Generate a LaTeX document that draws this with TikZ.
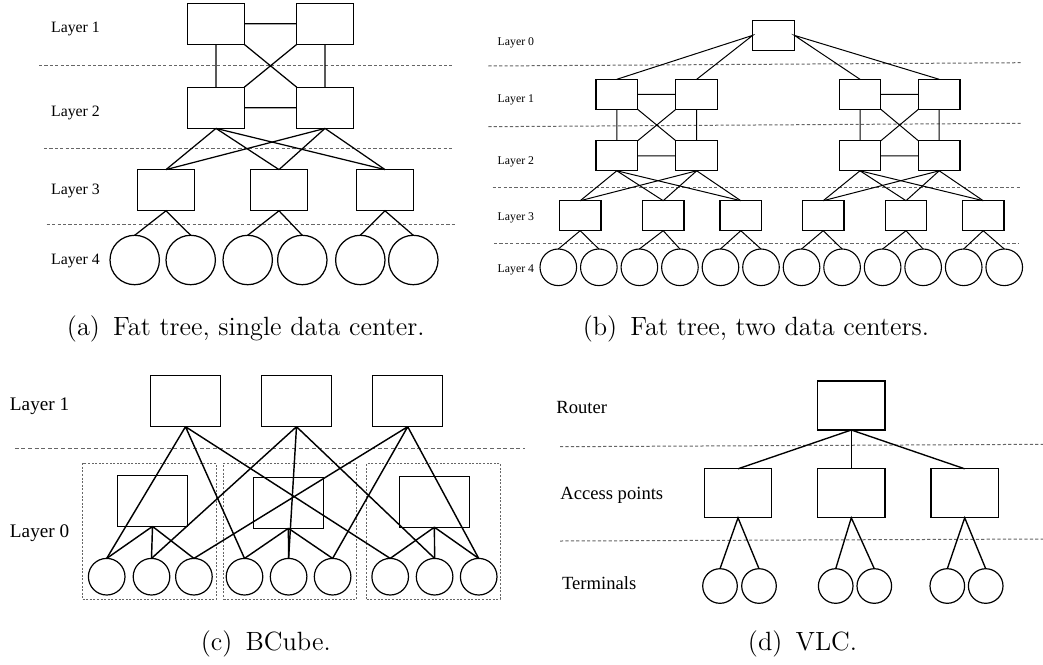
\documentclass[tikz,border=0pt]{standalone}
\usepackage{fontspec}
\newfontfamily\labfont{Liberation Serif}
\begin{document}
\begin{tikzpicture}[x=0.5pt,y=-0.5pt]
\tikzset{
  shapebase/.style={draw=black, fill=white, inner sep=0pt, outer sep=0pt},
  sep/.style={draw=black!60, line width=0.5pt, dash pattern=on 1.6pt off 1.1pt},
  grp/.style={draw=black!60, line width=0.5pt, dash pattern=on 1pt off 0.8pt, inner sep=0pt, outer sep=0pt},
  % panel (a)
  linka/.style={line width=0.62pt},
  boxa/.style={shapebase, line width=0.62pt, minimum width=28.3pt, minimum height=20.6pt},
  hosta/.style={shapebase, circle, line width=0.62pt, minimum size=24.7pt},
  laba/.style={anchor=west, inner sep=0pt, font=\labfont\fontsize{7.9}{9}\selectfont},
  % panel (b)
  linkb/.style={line width=0.5pt},
  boxb/.style={shapebase, line width=0.55pt, minimum width=20.8pt, minimum height=15pt},
  hostb/.style={shapebase, circle, line width=0.55pt, minimum size=18.3pt},
  labb/.style={anchor=west, inner sep=0pt, font=\labfont\fontsize{5.9}{7}\selectfont},
  % panel (c)
  linkc/.style={line width=0.72pt},
  boxc/.style={shapebase, fill=none, line width=0.6pt, minimum width=34.9pt, minimum height=25.5pt},
  hostc/.style={shapebase, circle, fill=none, line width=0.6pt, minimum size=18.3pt},
  labc/.style={anchor=west, inner sep=0pt, font=\labfont\fontsize{9.6}{11}\selectfont},
  % panel (d)
  linkd/.style={line width=0.68pt},
  boxd/.style={shapebase, line width=0.6pt, minimum width=33.65pt, minimum height=24.5pt},
  hostd/.style={shapebase, circle, line width=0.6pt, minimum size=17.3pt},
  labd/.style={anchor=west, inner sep=0pt, font=\labfont\fontsize{9.3}{11}\selectfont},
  captxt/.style={anchor=base, inner sep=0pt, font=\fontsize{13.2}{16}\selectfont},
}
\useasboundingbox (0,0) rectangle (1043,664);

% ---------------- (a) fat tree, single data center ----------------
\draw[sep] (39,65) -- (452,65);
\draw[sep] (44,148.7) -- (452,148.7);
\draw[sep] (46.7,224.7) -- (455.7,224.7);
\node[laba] (la1) at (50.7,29) {Layer 1};
\node[laba] (la2) at (50.7,113) {Layer 2};
\node[laba] (la3) at (50.7,190.7) {Layer 3};
\node[laba] (la4) at (50.7,261) {Layer 4};

\node[boxa] (a11) at (216,23.8) {};
\node[boxa] (a12) at (325,23.8) {};
\node[boxa] (a21) at (216,107.8) {};
\node[boxa] (a22) at (325,107.8) {};
\foreach \x [count=\i] in {166,279,385} \node[boxa] (a3\i) at (\x,190.2) {};
\foreach \x [count=\i] in {134.7,190.7,247.7,302.3,360.3,413.3} \node[hosta] (a4\i) at (\x,260) {};

\draw[linka] (a11.east) -- (a12.west) (a21.east) -- (a22.west)
  (a11.south) -- (a21.north) (a12.south) -- (a22.north)
  (a11.south east) -- (a22.north west) (a12.south west) -- (a21.north east);
\foreach \u in {1,2} \foreach \v in {1,2,3} \draw[linka] (a2\u.south) -- (a3\v.north);
\foreach \v/\p/\q in {1/1/2,2/3/4,3/5/6}
  \draw[linka] (a4\p.north) -- (a3\v.south) -- (a4\q.north);

% ---------------- (b) fat tree, two data centers ----------------
\draw[sep] (488.3,66) -- (1022,62.7);
\draw[sep] (488.3,126.7) -- (1022,123.3);
\draw[sep] (492.7,187.3) -- (1020,187.3);
\draw[sep] (494,243.3) -- (1019.3,243.3);
\node[labb] (lb0) at (497.3,43.3) {Layer 0};
\node[labb] (lb1) at (497.3,100) {Layer 1};
\node[labb] (lb2) at (497.3,162.3) {Layer 2};
\node[labb] (lb3) at (497.3,218.3) {Layer 3};
\node[labb] (lb4) at (497.3,270) {Layer 4};

\node[boxb] (b0) at (773.5,35.35) {};
\foreach \x [count=\i] in {616.8,696.7,860,939.2} {
  \node[boxb] (b1\i) at (\x,94.3) {};
  \node[boxb] (b2\i) at (\x,155.8) {};
}
\foreach \x [count=\i] in {580.2,663.2,740.8,823.2,906,983.2} \node[boxb] (b3\i) at (\x,215.7) {};
\foreach \k in {1,...,12} \node[hostb] (b4\k) at ({558.3+40.54*(\k-1)},267.3) {};

\draw[linkb] (b11.north) -- (b0.west) -- (b12.north)
  (b13.north) -- (b0.east) -- (b14.north);
\foreach \p/\q in {1/2,3/4} {
  \draw[linkb] (b1\p.east) -- (b1\q.west) (b2\p.east) -- (b2\q.west)
    (b1\p.south) -- (b2\p.north) (b1\q.south) -- (b2\q.north)
    (b1\p.south east) -- (b2\q.north west) (b1\q.south west) -- (b2\p.north east);
}
\foreach \u in {1,2} \foreach \v in {1,2,3} \draw[linkb] (b2\u.south) -- (b3\v.north);
\foreach \u in {3,4} \foreach \v in {4,5,6} \draw[linkb] (b2\u.south) -- (b3\v.north);
\foreach \v/\p/\q in {1/1/2,2/3/4,3/5/6,4/7/8,5/9/10,6/11/12}
  \draw[linkb] (b4\p.north) -- (b3\v.south) -- (b4\q.north);

% ---------------- (c) BCube ----------------
\draw[sep, dash pattern=on 2pt off 1.3pt] (14.8,448.3) -- (525.1,448.3);
\node[labc] (lc1) at (9.6,406.7) {Layer 1};
\node[labc] (lc0) at (9.6,533.3) {Layer 0};

\node[grp, minimum width=66.85pt, minimum height=68pt] (g1) at (149.45,531.3) {};
\node[grp, minimum width=66.3pt, minimum height=68pt] (g2) at (290.1,531.3) {};
\node[grp, minimum width=66.65pt, minimum height=68pt] (g3) at (433.35,531.3) {};

\foreach \x [count=\i] in {185.5,296.5,407.7} \node[boxc] (c1\i) at (\x,401.2) {};
\node[boxc] (c01) at (152.5,500.9) {};
\node[boxc] (c02) at (288.4,502.8) {};
\node[boxc] (c03) at (434.4,501.7) {};
\foreach \x [count=\i] in {106.7,151.5,193.9,244.5,288.6,332.6,390.2,434.6,478.7}
  \node[hostc] (s\i) at (\x,576.7) {};

\foreach \g/\p/\q/\r in {1/1/2/3,2/4/5/6,3/7/8/9}
  \draw[linkc] (c0\g.south) -- (s\p.north) (c0\g.south) -- (s\q.north) (c0\g.south) -- (s\r.north);
\foreach \k in {1,2,3} {
  \pgfmathtruncatemacro{\m}{\k+3}
  \pgfmathtruncatemacro{\n}{\k+6}
  \draw[linkc] (c1\k.south) -- (s\k.north) (c1\k.south) -- (s\m.north) (c1\k.south) -- (s\n.north);
}

% ---------------- (d) VLC ----------------
\draw[sep] (560,446.7) -- (1043,444.3);
\draw[sep] (560,541) -- (1043,539);
\node[labd] (ld0) at (556,407.7) {Router};
\node[labd] (ld1) at (560,495) {Access points};
\node[labd] (ld2) at (561.7,582.7) {Terminals};

\node[boxd] (d0) at (851.3,405.5) {};
\foreach \x [count=\i] in {738,851.3,964.7} \node[boxd] (d1\i) at (\x,493.3) {};
\foreach \x [count=\i] in {720,759,835.7,874.3,947.3,985.7} \node[hostd] (t\i) at (\x,586) {};

\foreach \i in {1,2,3} \draw[linkd] (d0.south) -- (d1\i.north);
\foreach \v/\p/\q in {1/1/2,2/3/4,3/5/6}
  \draw[linkd] (t\p.north) -- (d1\v.south) -- (t\q.north);

% ---------------- captions ----------------
\node[captxt] (capa) at (245.8,335) {(a)\hspace{.5em}Fat tree, single data center.};
\node[captxt] (capb) at (755.9,335) {(b)\hspace{.5em}Fat tree, two data centers.};
\node[captxt] (capc) at (265.8,650) {(c)\hspace{.5em}BCube.};
\node[captxt] (capd) at (802.5,650) {(d)\hspace{.5em}VLC.};
\end{tikzpicture}
\end{document}
